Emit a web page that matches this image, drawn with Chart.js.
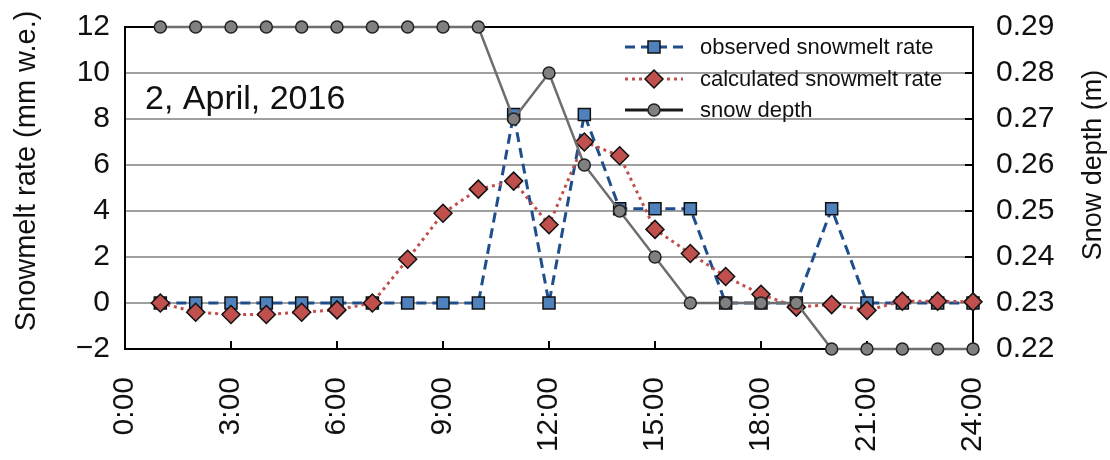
<!DOCTYPE html>
<html>
<head>
<meta charset="utf-8">
<script src="https://cdn.jsdelivr.net/npm/chart.js@4.4.0/dist/chart.umd.min.js"></script>
<style>
  html, body { margin: 0; padding: 0; background: #fff; }
  #wrap { width: 1110px; height: 460px; }
</style>
</head>
<body>
<div id="wrap"><canvas id="snowChart" width="1110" height="460"></canvas></div>
<script>
// hours of the day (x values)
const hours = [1, 2, 3, 4, 5, 6, 7, 8, 9, 10, 11, 12, 13, 14, 15, 16, 17, 18, 19, 20, 21, 22, 23, 24];

// snowmelt rate (mm w.e.)
const observedRate = [0, 0, 0, 0, 0, 0, 0, 0, 0, 0, 8.2, 0, 8.2, 4.1, 4.1, 4.1, 0, 0, 0, 4.1, 0, 0, 0, 0];
const calculatedRate = [0, -0.4, -0.5, -0.5, -0.4, -0.3, 0, 1.9, 3.9, 4.95, 5.3, 3.4, 7.0, 6.4, 3.2, 2.15, 1.15, 0.38, -0.18, -0.07, -0.32, 0.08, 0.08, 0.05];

// snow depth (m)
const snowDepth = [0.29, 0.29, 0.29, 0.29, 0.29, 0.29, 0.29, 0.29, 0.29, 0.29, 0.27, 0.28, 0.26, 0.25, 0.24, 0.23, 0.23, 0.23, 0.23, 0.22, 0.22, 0.22, 0.22, 0.22];

// tick labels
const xTicks = [0, 3, 6, 9, 12, 15, 18, 21, 24];
const xTickLabels = ['0:00', '3:00', '6:00', '9:00', '12:00', '15:00', '18:00', '21:00', '24:00'];
const rateTicks = [-2, 0, 2, 4, 6, 8, 10, 12];
const depthTicks = [0.22, 0.23, 0.24, 0.25, 0.26, 0.27, 0.28, 0.29];

const FONT = '"Liberation Sans", Arial, sans-serif';

function toPoints(vals) {
    return hours.map((h, i) => ({ x: h, y: vals[i] }));
}

const datasets = [
    {
        label: 'observed snowmelt rate',
        data: toPoints(observedRate),
        yAxisID: 'y',
        borderColor: '#1f4e8c',
        borderWidth: 3,
        borderDash: [10, 6],
        pointStyle: 'rect',
        pointRadius: 8.5,
        pointBackgroundColor: '#4f81bd',
        pointBorderColor: '#111',
        pointBorderWidth: 1.5,
        legendLine: '#1f4e8c',
        order: 3,
        clip: false
    },
    {
        label: 'calculated snowmelt rate',
        data: toPoints(calculatedRate),
        yAxisID: 'y',
        borderColor: '#c0504d',
        borderWidth: 3,
        borderDash: [3, 4],
        pointStyle: 'rectRot',
        pointRadius: 9,
        pointBackgroundColor: '#c0504d',
        pointBorderColor: '#111',
        pointBorderWidth: 1.5,
        legendLine: '#c0504d',
        order: 2,
        clip: false
    },
    {
        label: 'snow depth',
        data: toPoints(snowDepth),
        yAxisID: 'y1',
        borderColor: '#6e6e6e',
        borderWidth: 2.5,
        pointStyle: 'circle',
        pointRadius: 6,
        pointBackgroundColor: '#808080',
        pointBorderColor: '#222',
        pointBorderWidth: 1.5,
        legendLine: '#1a1a1a',
        order: 1,
        clip: false
    }
];

// frame, inward tick marks, titles, date note and legend
const extras = {
    id: 'extras',
    beforeDatasetsDraw(chart) {
        const { ctx, chartArea: a, scales } = chart;
        ctx.save();
        ctx.strokeStyle = '#000';
        ctx.lineWidth = 2;
        ctx.strokeRect(a.left, a.top, a.right - a.left, a.bottom - a.top);
        ctx.beginPath();
        xTicks.forEach(v => {
            const px = Math.round(scales.x.getPixelForValue(v));
            ctx.moveTo(px, a.bottom);
            ctx.lineTo(px, a.bottom - 8);
        });
        depthTicks.forEach(v => {
            const py = Math.round(scales.y1.getPixelForValue(v));
            ctx.moveTo(a.right, py);
            ctx.lineTo(a.right - 8, py);
        });
        ctx.stroke();
        ctx.restore();
    },
    afterDraw(chart) {
        const ctx = chart.ctx;
        ctx.save();
        ctx.fillStyle = '#111';

        // axis titles
        ctx.textAlign = 'center';
        ctx.textBaseline = 'middle';
        ctx.font = '29px ' + FONT;
        ctx.save();
        ctx.translate(27, 171);
        ctx.rotate(-Math.PI / 2);
        ctx.fillText('Snowmelt rate (mm w.e.)', 0, 0);
        ctx.restore();
        ctx.font = '27px ' + FONT;
        ctx.save();
        ctx.translate(1094, 165);
        ctx.rotate(-Math.PI / 2);
        ctx.fillText('Snow depth (m)', 0, 0);
        ctx.restore();

        // date note
        ctx.font = '34px ' + FONT;
        ctx.textAlign = 'left';
        ctx.textBaseline = 'alphabetic';
        ctx.fillText('2, April, 2016', 145, 109);

        // legend
        const rows = [47, 79, 110];
        datasets.forEach((ds, i) => {
            const y = rows[i];
            ctx.save();
            ctx.strokeStyle = ds.legendLine;
            ctx.lineWidth = 3;
            ctx.setLineDash(ds.borderDash || []);
            ctx.beginPath();
            ctx.moveTo(625, y);
            ctx.lineTo(683, y);
            ctx.stroke();
            ctx.setLineDash([]);
            ctx.fillStyle = ds.pointBackgroundColor;
            ctx.strokeStyle = ds.pointBorderColor;
            ctx.lineWidth = ds.pointBorderWidth;
            Chart.helpers.drawPoint(ctx, {
                pointStyle: ds.pointStyle,
                radius: ds.pointRadius,
                rotation: 0,
                borderWidth: ds.pointBorderWidth
            }, 654, y);
            ctx.restore();
            ctx.font = '22px ' + FONT;
            ctx.textBaseline = 'middle';
            ctx.fillStyle = '#111';
            ctx.fillText(ds.label, 700, y + 1);
        });
        ctx.restore();
    }
};

function fixVertical(width) {
    return s => {
        s.width = width;
        s.paddingTop = 0;
        s.paddingBottom = 0;
    };
}

new Chart(document.getElementById('snowChart').getContext('2d'), {
    type: 'line',
    data: { datasets: datasets },
    options: {
        responsive: false,
        animation: false,
        events: [],
        layout: { autoPadding: false, padding: { top: 27, left: 0, right: 0, bottom: 0 } },
        plugins: {
            legend: { display: false },
            tooltip: { enabled: false }
        },
        elements: { line: { tension: 0 } },
        scales: {
            x: {
                type: 'linear',
                min: 0,
                max: 24,
                afterBuildTicks: s => { s.ticks = xTicks.map(v => ({ value: v })); },
                afterFit: s => { s.height = 111; s.paddingLeft = 0; s.paddingRight = 0; },
                grid: { display: false },
                border: { display: false },
                ticks: {
                    color: '#111',
                    font: { family: FONT, size: 30 },
                    maxRotation: 90,
                    minRotation: 90,
                    padding: 20,
                    callback: v => xTickLabels[xTicks.indexOf(v)]
                }
            },
            y: {
                position: 'left',
                min: -2,
                max: 12,
                afterBuildTicks: s => { s.ticks = rateTicks.map(v => ({ value: v })); },
                afterFit: fixVertical(125),
                grid: { color: '#a0a0a0', lineWidth: 2, drawTicks: false },
                border: { display: false },
                ticks: {
                    color: '#111',
                    font: { family: FONT, size: 30 },
                    padding: 15,
                    callback: v => String(v).replace('-', '\u2212')
                }
            },
            y1: {
                position: 'right',
                min: 0.22,
                max: 0.29,
                afterBuildTicks: s => { s.ticks = depthTicks.map(v => ({ value: v })); },
                afterFit: fixVertical(137),
                grid: { display: false },
                border: { display: false },
                ticks: {
                    color: '#111',
                    font: { family: FONT, size: 30 },
                    padding: 15,
                    callback: v => v.toFixed(2)
                }
            }
        }
    },
    plugins: [extras]
});
</script>
</body>
</html>
